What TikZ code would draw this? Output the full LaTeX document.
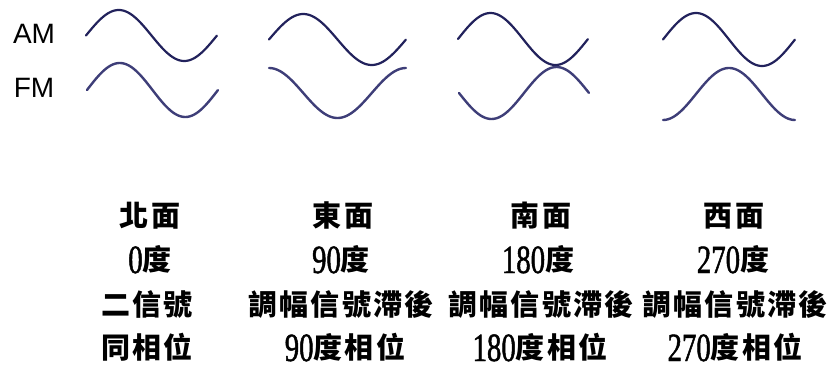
\documentclass[tikz,border=0pt]{standalone}
\usepackage{fontspec}
\setmainfont{Liberation Sans}
\newfontfamily\cjkfont[LetterSpace=8.0]{Noto Sans CJK TC}
\newfontfamily\digitfont[FakeStretch=0.72,FakeBold=1.2]{Liberation Serif}
\newcommand{\dg}[1]{\raisebox{-3pt}{\digitfont\mdseries\fontsize{40}{42}\selectfont #1}}
\definecolor{amcol}{HTML}{22225C}
\definecolor{fmcol}{HTML}{3E3E78}
\begin{document}
\begin{tikzpicture}[x=1pt,y=-1pt,
  amwave/.style={draw=amcol,line width=2.2pt,line cap=round},
  fmwave/.style={draw=fmcol,line width=2.4pt,line cap=round},
  rowlabel/.style={font=\fontsize{28}{30}\selectfont,anchor=base,inner sep=0pt},
  cjk/.style={font=\cjkfont\bfseries\fontsize{29}{31}\selectfont,anchor=base,inner sep=0pt}]
\useasboundingbox (0,0) rectangle (829,369);
% row labels
\node[rowlabel] (am) at (34,44) {AM};
\node[rowlabel] (fm) at (34,97) {FM};
% panel 1 (north, 0 deg)
\draw[amwave] plot[domain=0:1,samples=80] ({86+131*\x},{35.5-25.5*sin(360*\x)});
\draw[fmwave] plot[domain=0:1,samples=80] ({87+131*\x},{90-27*sin(360*\x)});
% panel 2 (east, 90 deg)
\draw[amwave] plot[domain=0:1,samples=80] ({269+137*\x},{39.5-25.5*sin(360*\x)});
\draw[fmwave] plot[domain=0:1,samples=80] ({269+137*\x},{93-25*cos(360*\x)});
% panel 3 (south, 180 deg)
\draw[amwave] plot[domain=0:1,samples=80] ({458+130*\x},{39-26*sin(360*\x)});
\draw[fmwave] plot[domain=0:1,samples=80] ({459+130*\x},{93+26*sin(360*\x)});
% panel 4 (west, 270 deg)
\draw[amwave] plot[domain=0:1,samples=80] ({663+132*\x},{39.5-26.5*sin(360*\x)});
\draw[fmwave] plot[domain=0:1,samples=80] ({663+132*\x},{94+26*cos(360*\x)});
% captions
\node[cjk] (n1) at (150,226) {北面};
\node[cjk] (n2) at (150,270) {\dg{0}度};
\node[cjk] (n3) at (147,315) {二信號};
\node[cjk] (n4) at (147,358) {同相位};
\node[cjk] (e1) at (343,226) {東面};
\node[cjk] (e2) at (341,270) {\dg{90}度};
\node[cjk] (e3) at (341,315) {調幅信號滯後};
\node[cjk] (e4) at (345,358) {\dg{90}度相位};
\node[cjk] (s1) at (541,226) {南面};
\node[cjk] (s2) at (538,270) {\dg{180}度};
\node[cjk] (s3) at (541,315) {調幅信號滯後};
\node[cjk] (s4) at (540,358) {\dg{180}度相位};
\node[cjk] (w1) at (734,226) {西面};
\node[cjk] (w2) at (733,270) {\dg{270}度};
\node[cjk] (w3) at (735,315) {調幅信號滯後};
\node[cjk] (w4) at (735,358) {\dg{270}度相位};
\end{tikzpicture}
\end{document}
